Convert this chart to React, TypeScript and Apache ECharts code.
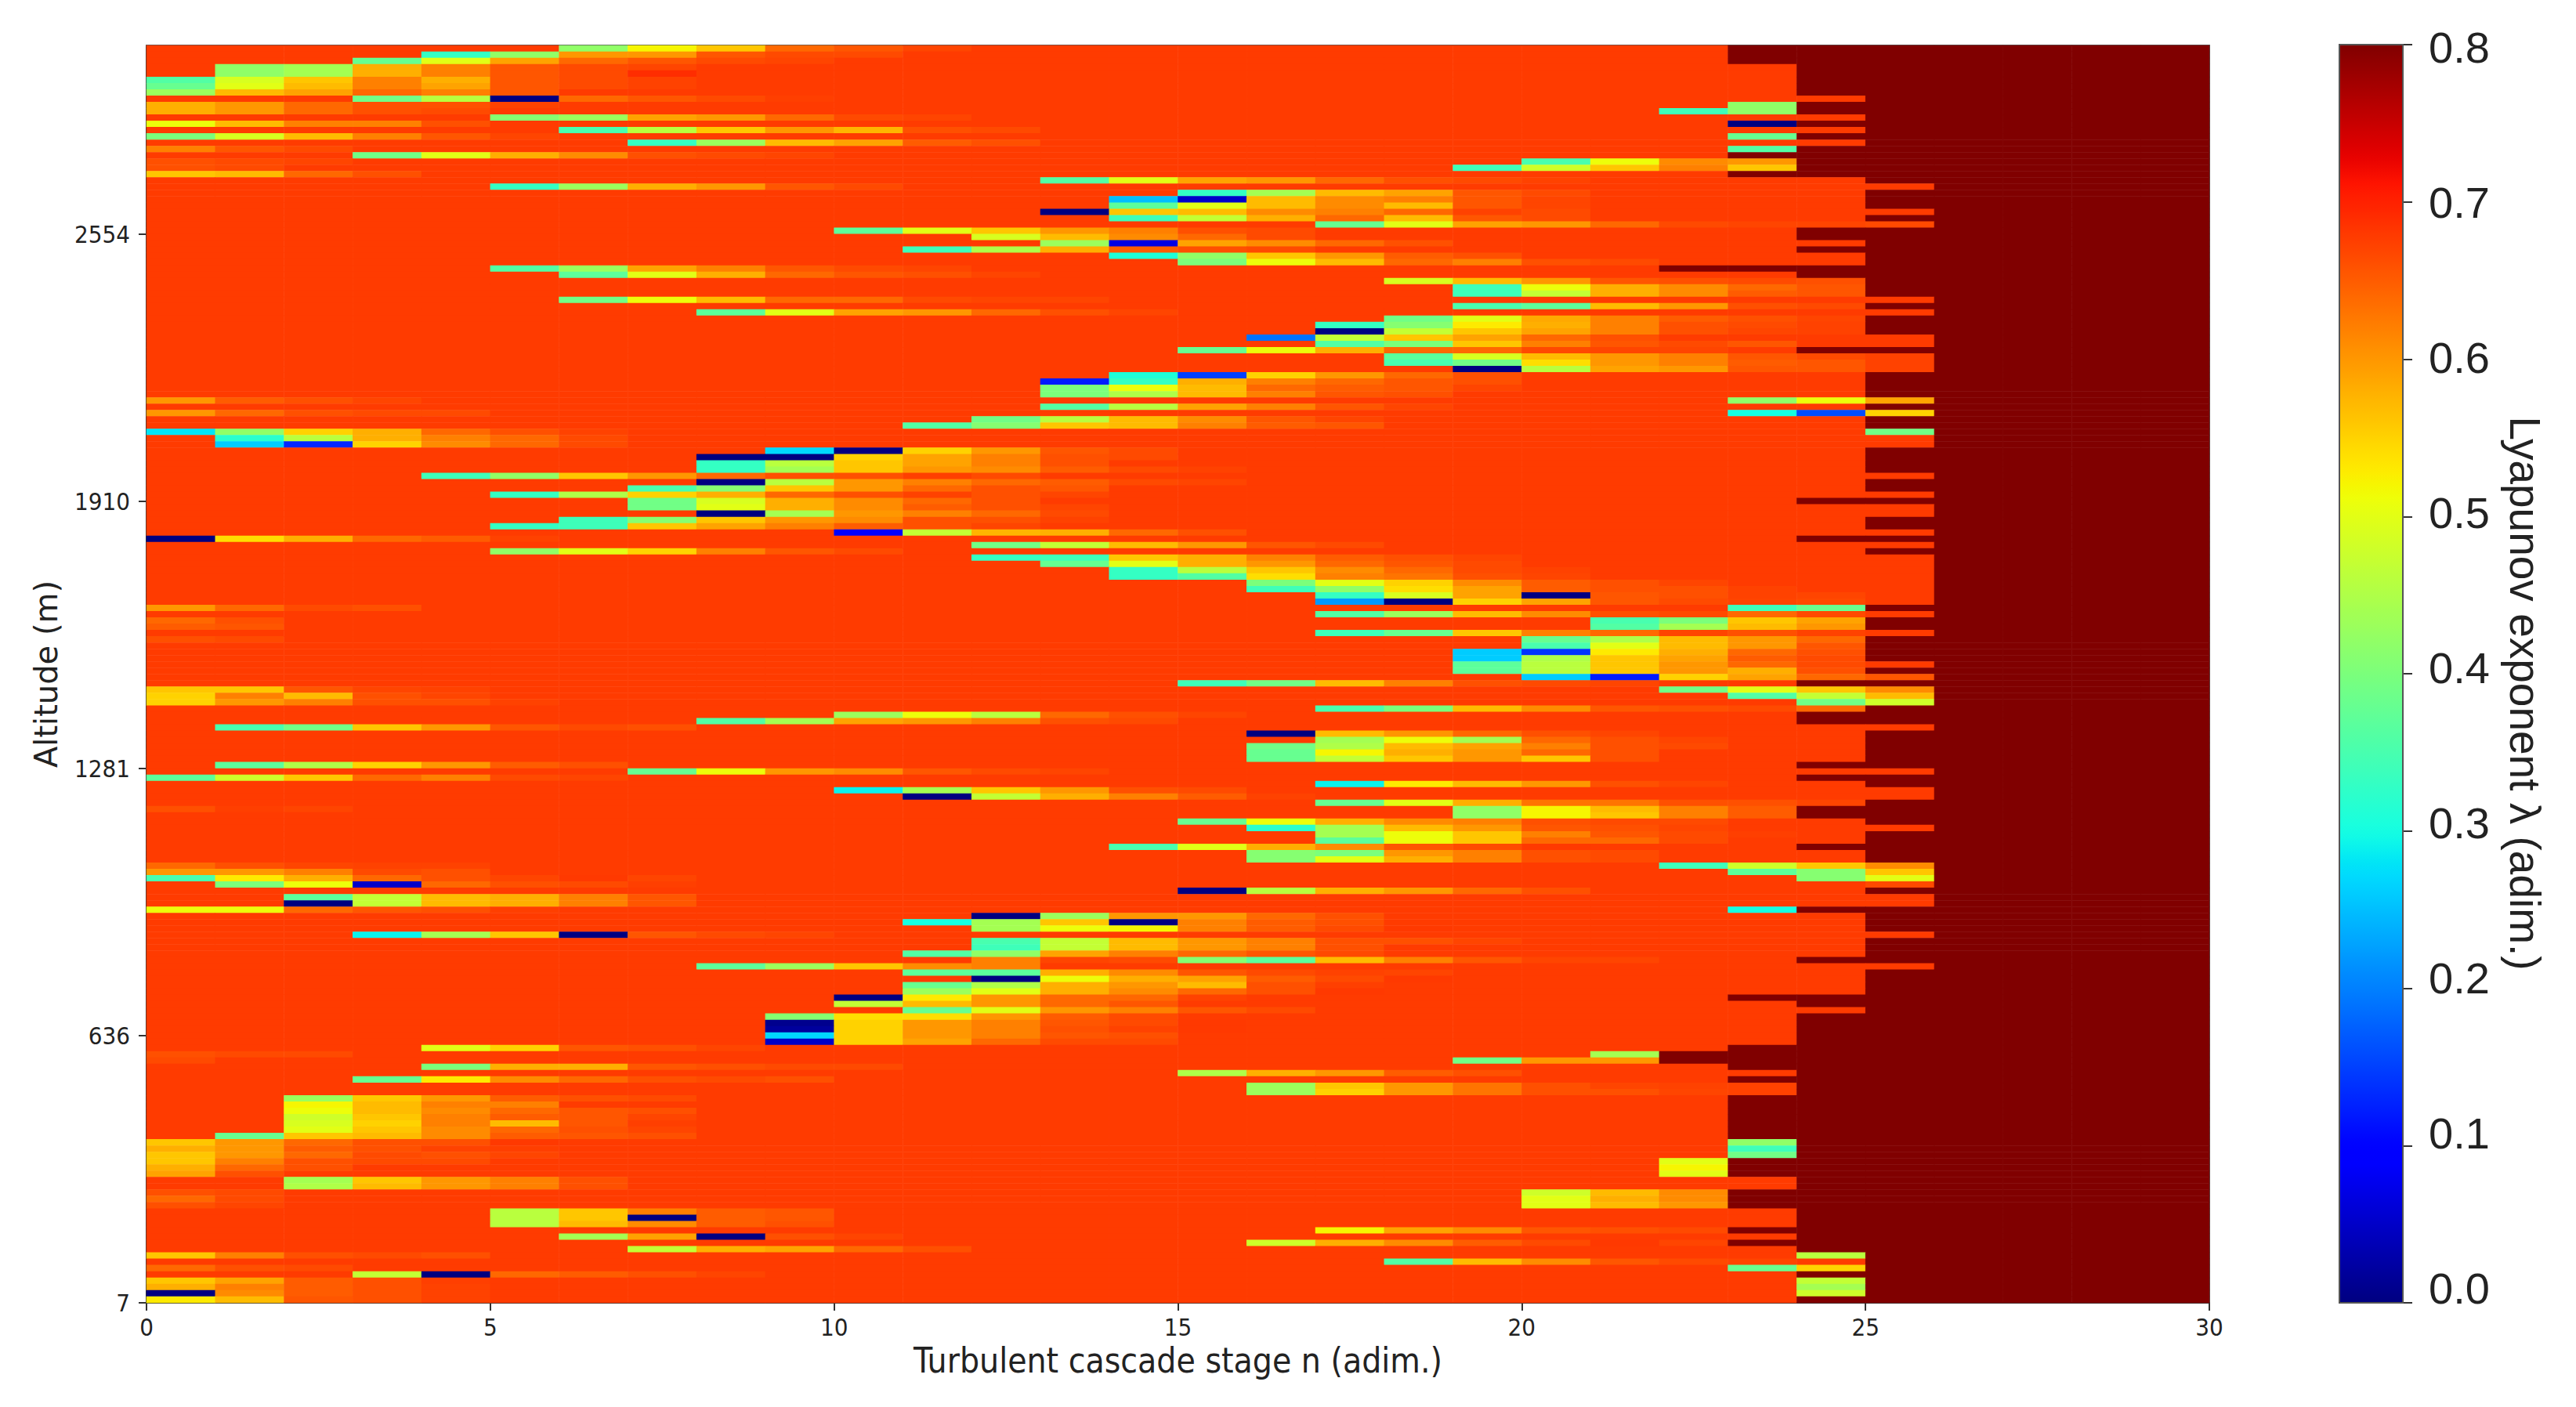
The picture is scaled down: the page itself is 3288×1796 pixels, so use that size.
import React, { useEffect, useRef } from "react";
import * as echarts from "echarts";

const stageCount = 30;
const rowCount = 200;
const baseLambda = 0.678;
const saturated = 0.8;
const xTicks = [0, 5, 10, 15, 20, 25, 30];
const yTickPositions = [0, 42.5, 85, 127.5, 170];
const yTickLabels = ["7", "636", "1281", "1910", "2554"];
const barTicks = [0, 0.1, 0.2, 0.3, 0.4, 0.5, 0.6, 0.7, 0.8];

// Rows are counted from the top of the picture. [row, firstStage, values...]
const streaks: number[][] = [
  [0, 6, .42, .52, .56, .64, .655, .67],
  [1, 4, .33, .42, .60, .60, .655, .665, .665],
  [2, 3, .38, .50, .59, .64, .655, .665, .67],
  [3, 1, .42, .44, .58, .62, .655, .665, .67],
  [4, 1, .42, .44, .58, .62, .655, .665, .69],
  [5, 0, .36, .49, .56, .62, .58, .655, .665, .672],
  [6, 0, .38, .50, .57, .62, .59, .655, .665, .672],
  [7, 0, .43, .57, .59, .64, .62, .655],
  [8, 3, .39, .46, .00, .64, .655, .665, .675],
  [9, 0, .58, .60, .64, .66, .66, .672],
  [10, 0, .58, .60, .64, .66, .665],
  [9, 23, .42], [10, 22, .34, .42],
  [11, 5, .41, .43, .59, .60, .64, .665, .67],
  [12, 0, .51, .57, .62, .62, .66],
  [12, 23, .00],
  [13, 6, .35, .46, .56, .60, .575, .66, .665],
  [14, 0, .40, .49, .57, .62, .655, .67],
  [14, 23, .38],
  [15, 7, .33, .43, .57, .59, .65, .66],
  [16, 0, .62, .655, .665],
  [16, 23, .36],
  [17, 3, .39, .50, .58, .61, .66, .665, .67],
  [18, 0, .66, .665, .67],
  [18, 20, .35, .51, .61, .60],
  [19, 0, .66, .665],
  [19, 19, .34, .48, .56, .62, .56],
  [20, 0, .56, .57, .64, .66],
  [21, 13, .36, .50, .59, .60, .64, .66, .665, .672],
  [22, 5, .33, .43, .58, .60, .655, .665],
  [23, 15, .33, .44, .57, .59, .655, .665],
  [24, 14, .25, .05, .57, .61, .62, .655, .67],
  [25, 14, .37, .50, .57, .61, .57, .655, .67],
  [26, 13, .00, .56, .57, .61, .62, .64, .672, .665],
  [27, 14, .34, .47, .58, .64, .57, .655, .665],
  [28, 17, .38, .50, .59, .60, .64, .665, .67, .67, .665],
  [29, 10, .37, .50, .56, .60, .62, .66, .665],
  [30, 12, .49, .57, .61, .64, .665],
  [31, 13, .43, .07, .59, .61, .64, .66],
  [32, 11, .34, .45, .58, .65, .66, .665],
  [33, 14, .31, .42, .56, .60, .65, .66],
  [34, 15, .40, .51, .57, .64, .62, .66, .665],
  [35, 5, .36, .43, .59, .62, .655, .665, .67],
  [36, 6, .37, .50, .58, .64, .655, .66, .67],
  [37, 18, .49, .57, .60, .655, .66, .665, .66],
  [38, 19, .34, .51, .58, .61, .64, .655],
  [39, 19, .34, .47, .58, .61, .65, .655],
  [40, 6, .39, .51, .57, .64, .64, .665, .67, .67],
  [41, 19, .35, .37, .57, .60, .66, .665],
  [42, 8, .37, .50, .59, .60, .64, .66, .67],
  [43, 18, .39, .50, .585, .62, .65, .66, .67],
  [44, 17, .33, .41, .53, .58, .62, .66, .665, .672],
  [45, 17, .00, .47, .56, .59, .62, .66, .67, .672],
  [46, 16, .19, .47, .56, .59, .64, .66],
  [47, 17, .36, .40, .56, .62, .655, .665, .655],
  [48, 15, .38, .51, .58, .64, .64, .665, .67, .67],
  [49, 18, .37, .49, .57, .60, .62, .655, .665, .672],
  [50, 18, .35, .39, .54, .60, .62, .65, .655, .672],
  [51, 19, .00, .46, .59, .60, .655, .655, .672],
  [52, 14, .31, .15, .55, .60, .64, .66],
  [53, 13, .12, .33, .58, .62, .64, .655, .66],
  [54, 13, .40, .51, .57, .64, .65, .655, .67],
  [55, 13, .40, .45, .57, .62, .655, .66],
  [56, 0, .60, .65, .66, .67],
  [56, 23, .42, .51, .59],
  [57, 13, .36, .46, .59, .62, .655, .67],
  [58, 0, .60, .64, .66, .665, .665],
  [58, 23, .30, .16, .55],
  [59, 12, .39, .46, .57, .61, .655, .67],
  [60, 11, .36, .41, .56, .57, .62, .65, .655],
  [61, 0, .28, .42, .55, .58, .64, .66, .672],
  [61, 25, .39],
  [62, 1, .32, .46, .58, .62, .64, .665],
  [63, 1, .26, .13, .55, .61, .64, .665],
  [64, 9, .27, .00, .55, .60, .655, .665],
  [65, 8, .00, .00, .55, .59, .62, .66, .665],
  [66, 8, .33, .46, .56, .59, .62, .66],
  [67, 8, .33, .44, .56, .60, .61, .65, .665, .672],
  [68, 4, .34, .42, .56, .60, .64, .66, .66, .675, .665],
  [69, 8, .00, .46, .60, .62, .64, .65, .665, .67],
  [70, 7, .35, .41, .56, .60, .64, .66, .655],
  [71, 5, .33, .45, .55, .58, .64, .66, .672, .66, .67],
  [72, 7, .39, .49, .58, .61, .64, .66],
  [73, 7, .39, .50, .58, .61, .65, .66, .67],
  [74, 8, .00, .44, .60, .62, .64, .665],
  [75, 6, .34, .41, .56, .60, .61, .66, .66, .672],
  [76, 5, .33, .34, .56, .59, .62, .65, .66, .67],
  [77, 10, .09, .47, .575, .58, .64, .66],
  [78, 0, .00, .54, .58, .64, .65, .672],
  [79, 12, .39, .47, .57, .60, .655, .665],
  [80, 5, .42, .50, .55, .62, .655, .665],
  [81, 12, .33, .34, .56, .58, .62, .65, .66, .67],
  [82, 13, .38, .50, .58, .60, .64, .655, .665],
  [83, 14, .33, .46, .56, .61, .64, .665, .672],
  [84, 14, .33, .36, .54, .62, .63, .66, .67],
  [85, 16, .40, .50, .55, .61, .65, .66, .67],
  [86, 16, .34, .42, .54, .59, .65, .66, .66, .672],
  [87, 17, .33, .49, .59, .00, .655, .66, .672, .67],
  [88, 17, .22, .00, .55, .59, .655, .665, .67, .665],
  [89, 0, .60, .64, .665, .66],
  [89, 23, .34, .38],
  [90, 17, .36, .43, .57, .61, .66, .665, .64, .665],
  [91, 0, .64, .66],
  [91, 21, .35, .40, .56, .59],
  [92, 0, .65, .655],
  [92, 21, .36, .44, .57, .60],
  [93, 17, .34, .38, .56, .62, .64, .67, .66, .672],
  [94, 0, .66, .665],
  [94, 20, .38, .45, .57, .60, .64],
  [95, 20, .35, .50, .57, .60, .655],
  [96, 19, .26, .14, .53, .58, .64, .66],
  [97, 19, .26, .45, .56, .59, .65, .665],
  [98, 19, .37, .46, .56, .60, .64, .665],
  [99, 19, .37, .46, .56, .60, .58, .66],
  [100, 20, .26, .12, .55, .59, .64, .655],
  [101, 15, .34, .39, .57, .62, .66, .665, .67],
  [102, 0, .56, .56, .655, .67, .672],
  [102, 22, .39, .50, .56, .61],
  [103, 0, .55, .62, .57, .66, .67],
  [103, 23, .36, .47, .57],
  [104, 0, .55, .60, .62, .66, .66, .672],
  [104, 24, .39, .48],
  [105, 17, .35, .40, .57, .61, .655, .66, .665, .64],
  [106, 10, .43, .51, .46, .64, .66, .67],
  [107, 8, .36, .44, .59, .60, .62, .66, .665],
  [108, 1, .35, .39, .56, .60, .655, .665, .66],
  [109, 16, .00, .57, .60, .64, .66, .67],
  [110, 17, .44, .51, .44, .64, .66, .67],
  [111, 16, .39, .45, .57, .59, .62, .66, .665],
  [112, 16, .38, .52, .58, .60, .64, .66],
  [113, 16, .38, .47, .56, .60, .56, .66],
  [114, 1, .37, .45, .55, .60, .65, .66],
  [115, 7, .38, .51, .60, .61, .655, .665, .67],
  [116, 0, .37, .48, .56, .64, .62, .665, .67],
  [117, 17, .29, .53, .57, .60, .66, .67],
  [118, 10, .29, .44, .56, .60, .66, .665],
  [119, 11, .00, .47, .58, .62, .65, .672],
  [120, 17, .38, .50, .58, .63, .63, .66, .66, .67],
  [121, 0, .66, .675, .67],
  [121, 19, .42, .52, .57, .62, .65],
  [122, 19, .42, .52, .56, .62, .65],
  [123, 15, .38, .51, .58, .61, .62, .66, .665, .665],
  [124, 16, .32, .44, .57, .60, .655, .66, .67],
  [125, 17, .44, .51, .56, .62, .655, .665, .675],
  [126, 17, .37, .51, .56, .64, .64, .665],
  [127, 14, .35, .50, .58, .61, .655, .665, .68],
  [128, 16, .41, .40, .60, .62, .66, .665],
  [129, 16, .41, .50, .58, .62, .66, .665],
  [130, 0, .64, .66, .67, .672, .672],
  [130, 22, .34, .48, .56, .61],
  [131, 0, .60, .60, .62, .665, .66],
  [131, 23, .37, .41, .56],
  [132, 0, .35, .53, .58, .64, .66, .67, .68, .67],
  [132, 24, .41, .50],
  [133, 1, .40, .51, .05, .64, .66, .665, .675],
  [133, 25, .665],
  [134, 15, .00, .46, .58, .60, .64, .66],
  [135, 2, .37, .47, .57, .58, .62, .655],
  [136, 2, .00, .47, .57, .58, .62, .655],
  [137, 0, .51, .51, .64, .655, .66, .675],
  [137, 23, .30],
  [138, 12, .00, .43, .60, .60, .64, .66],
  [139, 11, .30, .44, .56, .00, .62, .65, .66],
  [140, 12, .44, .51, .52, .62, .65, .665, .68],
  [141, 3, .29, .44, .56, .00, .655, .665, .67],
  [142, 12, .35, .47, .57, .60, .62, .66, .66, .67],
  [143, 12, .34, .47, .57, .60, .62, .66],
  [144, 11, .36, .42, .59, .62, .64, .655, .665],
  [145, 12, .62, .67, .665, .41, .37, .57, .62, .655, .67, .67],
  [146, 8, .37, .43, .56, .61, .62],
  [147, 11, .37, .37, .58, .61, .655, .665, .672, .67],
  [148, 12, .00, .51, .58, .59, .65, .665, .68],
  [149, 11, .38, .45, .58, .60, .57, .66, .675],
  [150, 11, .43, .50, .58, .61, .64, .66, .68],
  [151, 10, .00, .53, .60, .64, .64, .672],
  [152, 10, .47, .57, .60, .64, .655],
  [153, 11, .38, .50, .60, .62, .655, .665],
  [154, 9, .41, .54, .54, .60, .65, .665],
  [155, 9, .01, .55, .60, .62, .655, .665, .68],
  [156, 9, .02, .55, .60, .62, .66, .672, .68],
  [157, 9, .27, .55, .60, .62, .655, .66],
  [158, 9, .05, .55, .59, .64, .665, .665],
  [159, 4, .50, .55, .655, .66, .67],
  [160, 0, .66, .665, .665],
  [160, 21, .44],
  [161, 0, .665],
  [161, 19, .39, .60, .60],
  [162, 4, .40, .58, .58, .655, .66, .665, .665],
  [163, 15, .45, .58, .60, .65, .66],
  [164, 3, .38, .53, .61, .64, .66, .665, .66],
  [165, 16, .43, .56, .60, .63, .66, .67, .672, .672],
  [166, 16, .43, .55, .60, .63, .66, .66, .67, .672],
  [167, 2, .43, .56, .60, .65, .66, .665],
  [168, 2, .52, .57, .62, .62],
  [169, 2, .51, .57, .61, .64, .655, .66],
  [170, 2, .48, .56, .62, .65, .655, .67],
  [171, 2, .49, .55, .62, .57, .655, .675],
  [172, 2, .50, .56, .61, .64, .66, .67],
  [173, 1, .38, .56, .57, .61, .65, .655, .66],
  [174, 0, .56, .60, .64, .66, .66, .68],
  [174, 23, .42],
  [175, 0, .58, .60, .65, .66, .672, .675],
  [175, 23, .34],
  [176, 0, .56, .60, .64, .665, .66, .67],
  [176, 23, .39],
  [177, 0, .56, .62, .66, .665, .665],
  [177, 22, .50],
  [178, 0, .58, .64, .66],
  [178, 22, .52],
  [179, 0, .59, .66],
  [179, 22, .50],
  [180, 2, .44, .56, .60, .62, .66],
  [181, 2, .45, .57, .60, .62, .66],
  [182, 0, .66, .665],
  [182, 20, .48, .57, .61],
  [183, 0, .64, .665],
  [183, 20, .50, .58, .61],
  [184, 0, .66, .67],
  [184, 20, .50, .57, .60],
  [185, 5, .46, .56, .62, .65, .655],
  [186, 5, .46, .56, .00, .65, .655],
  [187, 5, .46, .57, .61, .65, .66],
  [188, 17, .52, .59, .61, .655, .66, .665],
  [189, 6, .44, .59, .00, .66, .67],
  [190, 16, .48, .58, .61, .65, .665, .68, .67],
  [191, 7, .47, .58, .59, .64, .66],
  [192, 0, .56, .62, .66, .665, .66],
  [192, 24, .46],
  [193, 18, .36, .57, .61, .655, .665, .67],
  [194, 0, .64, .66, .665],
  [194, 23, .38, .55],
  [195, 3, .47, .00, .64, .65, .66, .67],
  [196, 0, .56, .59, .65, .66, .675],
  [196, 24, .47],
  [197, 0, .58, .62, .65, .66, .672],
  [197, 24, .44],
  [198, 0, .00, .61, .65, .66, .672],
  [198, 24, .48],
  [199, 0, .53, .57, .655, .66, .672],
];

// Rows in which a stage is saturated at the top of the scale, [from, to].
const saturatedStage22 = [[35, 35], [160, 161]];
const saturatedStage23 = [[0, 2], [17, 17], [20, 20], [35, 35], [151, 151], [159, 162], [164, 164], [167, 173], [177, 179], [182, 184], [188, 188], [190, 190]];
const saturatedStage24 = [[0, 7], [9, 10], [12, 12], [14, 14], [16, 20], [29, 30], [32, 32], [35, 36], [48, 48], [72, 72], [78, 78], [101, 101], [106, 107], [114, 114], [116, 116], [121, 122], [127, 127], [137, 137], [145, 145], [151, 152], [154, 191], [195, 195], [199, 199]];
const openStage25 = [[22, 22], [26, 26], [28, 28], [40, 40], [42, 42], [46, 47], [49, 51], [56, 56], [58, 58], [61, 63], [68, 68], [71, 71], [73, 74], [77, 77], [79, 79], [81, 88], [90, 90], [93, 93], [98, 98], [100, 100], [102, 104], [108, 108], [115, 115], [118, 119], [124, 124], [130, 133], [135, 136], [141, 141], [146, 146]];

const lerp = (xs: number[], ys: number[], t: number) => {
  for (let i = 1; i < xs.length; i++) if (t <= xs[i]) return ys[i - 1] + ((ys[i] - ys[i - 1]) * (t - xs[i - 1])) / (xs[i] - xs[i - 1]);
  return ys[ys.length - 1];
};
const jet: string[] = [];
for (let i = 0; i <= 128; i++) {
  const t = i / 128;
  const r = lerp([0, 0.35, 0.66, 0.89, 1], [0, 0, 1, 1, 0.5], t);
  const g = lerp([0, 0.125, 0.375, 0.64, 0.91, 1], [0, 0, 1, 1, 0, 0], t);
  const b = lerp([0, 0.11, 0.34, 0.65, 1], [0.5, 1, 1, 0, 0], t);
  jet.push(`rgb(${Math.round(r * 255)},${Math.round(g * 255)},${Math.round(b * 255)})`);
}

function buildCells() {
  const grid: number[][] = [];
  for (let r = 0; r < rowCount; r++) {
    const row: number[] = [];
    for (let c = 0; c < stageCount; c++) row.push(c >= 25 ? saturated : baseLambda);
    grid.push(row);
  }
  const mark = (runs: number[][], col: number, v: number) => runs.forEach(([a, b]) => { for (let r = a; r <= b; r++) grid[r][col] = v; });
  mark(saturatedStage22, 22, saturated);
  mark(saturatedStage23, 23, saturated);
  mark(saturatedStage24, 24, saturated);
  mark(openStage25, 25, baseLambda);
  streaks.forEach(([r, c, ...vals]) => vals.forEach((v, i) => { grid[r][c + i] = v; }));
  const cells: number[][] = [];
  grid.forEach((row, r) => row.forEach((v, c) => cells.push([c, rowCount - 1 - r, v])));
  return cells;
}

const plot = { left: 187, top: 58, width: 2633, height: 1605 };
const bar = { left: 2986, top: 57, width: 81, height: 1606 };
// In the reference the colour-bar labels sit on a slightly shorter span than its ticks.
const barLabels = { left: 2986, top: 60, width: 81, height: 1584 };
const narrow = "'DejaVu Sans Condensed', 'DejaVu Sans', sans-serif";

export default function App() {
  const ref = useRef<HTMLDivElement>(null);
  useEffect(() => {
    const chart = echarts.init(ref.current!, null, { renderer: "svg" });
    const hiddenCategory = (n: number) => ({
      type: "category" as const,
      data: Array.from({ length: n }, (_, i) => i),
      show: false,
      gridIndex: 0,
    });
    chart.setOption({
      animation: false,
      backgroundColor: "#fff",
      grid: [
        { ...plot, containLabel: false },
        { ...bar, containLabel: false },
        { ...barLabels, containLabel: false },
      ],
      visualMap: {
        type: "continuous",
        min: 0,
        max: 0.8,
        seriesIndex: 0,
        left: bar.left,
        top: bar.top,
        padding: 0,
        itemWidth: bar.width,
        itemHeight: bar.height,
        calculable: false,
        realtime: false,
        hoverLink: false,
        text: undefined,
        showLabel: false,
        inRange: { color: jet },
      },
      xAxis: [
        hiddenCategory(stageCount),
        {
          type: "value",
          gridIndex: 0,
          position: "bottom",
          min: 0,
          max: 30,
          interval: 5,
          splitLine: { show: false },
          axisLine: { onZero: false, lineStyle: { color: "#333", width: 2 } },
          axisTick: { length: 10, customValues: xTicks, lineStyle: { color: "#333", width: 2 } },
          axisLabel: { customValues: xTicks, fontFamily: narrow, fontSize: 31, color: "#222", margin: 15 },
          name: "Turbulent cascade stage n (adim.)",
          nameLocation: "middle",
          nameGap: 51,
          nameTextStyle: { fontFamily: narrow, fontSize: 44, color: "#222" },
        },
        {
          type: "value",
          gridIndex: 0,
          position: "top",
          min: 0,
          max: 30,
          axisLine: { onZero: false, lineStyle: { color: "#555", width: 2 } },
          axisTick: { show: false },
          axisLabel: { show: false },
          splitLine: { show: false },
        },
        { type: "value", gridIndex: 1, min: 0, max: 1, show: false },
        { type: "value", gridIndex: 2, min: 0, max: 1, show: false },
      ],
      yAxis: [
        hiddenCategory(rowCount),
        {
          type: "value",
          gridIndex: 0,
          position: "left",
          min: 0,
          max: 200,
          splitLine: { show: false },
          axisLine: { onZero: false, lineStyle: { color: "#333", width: 2 } },
          axisTick: { length: 10, customValues: yTickPositions, lineStyle: { color: "#333", width: 2 } },
          axisLabel: {
            customValues: yTickPositions,
            fontFamily: narrow,
            fontSize: 31,
            color: "#222",
            margin: 21,
            padding: [0, 0, 6, 0],
            formatter: (v: number) => yTickLabels[yTickPositions.indexOf(v)] ?? "",
          },
          name: "Altitude (m)",
          nameLocation: "middle",
          nameRotate: 90,
          nameGap: 108,
          nameTextStyle: { fontFamily: "'DejaVu Sans', sans-serif", fontSize: 40, color: "#222" },
        },
        {
          type: "value",
          gridIndex: 0,
          position: "right",
          min: 0,
          max: 200,
          axisLine: { onZero: false, lineStyle: { color: "#555", width: 2 } },
          axisTick: { show: false },
          axisLabel: { show: false },
          splitLine: { show: false },
        },
        {
          type: "value",
          gridIndex: 1,
          position: "right",
          min: 0,
          max: 0.8,
          interval: 0.1,
          splitLine: { show: false },
          axisLine: { show: true, onZero: false, lineStyle: { color: "#333", width: 2 } },
          axisTick: { show: true, length: 12, customValues: barTicks, lineStyle: { color: "#333", width: 2 } },
          axisLabel: { show: false },
          name: "Lyapunov exponent λ (adim.)",
          nameLocation: "middle",
          nameRotate: -90,
          nameGap: 128,
          nameTextStyle: { fontFamily: "'Liberation Sans', Arial, sans-serif", fontSize: 55, color: "#222", padding: [0, 0, 0, 50] },
        },
        {
          type: "value",
          gridIndex: 2,
          position: "right",
          min: 0,
          max: 0.8,
          interval: 0.1,
          splitLine: { show: false },
          axisLine: { show: false },
          axisTick: { show: false },
          axisLabel: {
            customValues: barTicks,
            fontFamily: "'Liberation Sans', Arial, sans-serif",
            fontSize: 56,
            color: "#222",
            margin: 33,
            formatter: (v: number) => v.toFixed(1),
          },
        },
      ],
      graphic: [
        {
          type: "rect",
          z: 20,
          shape: { x: bar.left, y: bar.top, width: bar.width, height: bar.height },
          style: { fill: "none", stroke: "#555", lineWidth: 2 },
        },
      ],
      series: [
        {
          type: "heatmap",
          xAxisIndex: 0,
          yAxisIndex: 0,
          data: buildCells(),
          progressive: 0,
          silent: true,
          emphasis: { disabled: true },
        },
      ],
    });
    return () => chart.dispose();
  }, []);
  return <div ref={ref} style={{ position: "absolute", left: 0, top: 0, width: 3288, height: 1796, background: "#fff" }} />;
}
